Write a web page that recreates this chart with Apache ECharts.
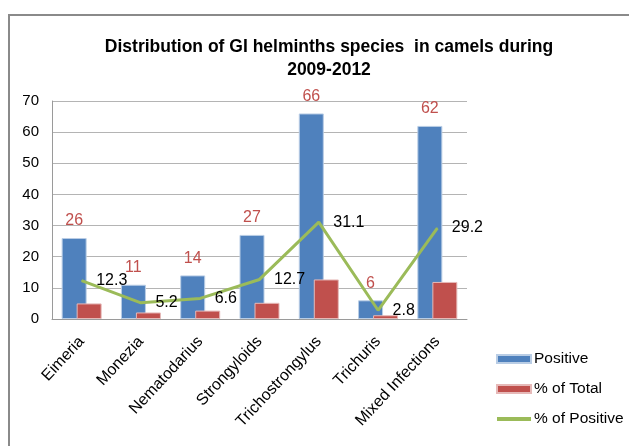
<!DOCTYPE html>
<html>
<head>
<meta charset="utf-8">
<script src="https://cdn.jsdelivr.net/npm/echarts@6/dist/echarts.min.js"></script>
<style>
  html, body { margin: 0; padding: 0; background: #fff; }
  #chart { width: 629px; height: 446px; }
</style>
</head>
<body>
<div id="chart"></div>
<script>
// Species groups along the x axis
const categories = ['Eimeria', 'Monezia', 'Nematodarius', 'Strongyloids', 'Trichostrongylus', 'Trichuris', 'Mixed Infections'];
// Number of positive camels per group
const positive = [26, 11, 14, 27, 66, 6, 62];
// Share of all examined camels (%)
const pctOfTotal = [5.0, 2.1, 2.7, 5.2, 12.7, 1.2, 11.9];
// Share of all positive cases (%)
const pctOfPositive = [12.3, 5.2, 6.6, 12.7, 31.1, 2.8, 29.2];
// Value axis ticks
const yTicks = [0, 10, 20, 30, 40, 50, 60, 70];

const FONT = 'Liberation Sans, Arial, sans-serif';

const chart = echarts.init(document.getElementById('chart'), null, { renderer: 'canvas' });

chart.setOption({
  animation: false,
  backgroundColor: '#fff',
  graphic: [{
    type: 'rect',
    shape: { x: 9, y: 15, width: 700, height: 500 },
    style: { fill: 'none', stroke: '#8a8a8a', lineWidth: 2 },
    silent: true
  }],
  title: {
    text: 'Distribution of GI helminths species  in camels during\n2009-2012',
    left: 324,
    top: 31,
    textAlign: 'center',
    textStyle: {
      fontFamily: FONT,
      fontWeight: 'bold',
      fontSize: 17.5,
      lineHeight: 23,
      color: '#000'
    }
  },
  legend: {
    orient: 'vertical',
    left: 491,
    top: 346,
    itemWidth: 34,
    itemHeight: 8,
    itemGap: 14,
    textStyle: { fontFamily: FONT, fontSize: 15.5, color: '#000', padding: [0, 0, 0, -2] },
    data: [
      { name: 'Positive', icon: 'rect' },
      { name: '% of Total', icon: 'rect' },
      { name: '% of Positive', icon: 'path://M0,0H34V4H0Z' }
    ]
  },
  grid: { left: 52, right: 162, top: 101, bottom: 127 },
  xAxis: {
    type: 'category',
    data: categories,
    axisLine: { lineStyle: { color: '#9a9a9a', width: 1 } },
    axisTick: { show: false },
    axisLabel: {
      rotate: 47,
      margin: 20,
      interval: 0,
      fontFamily: FONT,
      fontSize: 16,
      color: '#000'
    }
  },
  yAxis: {
    type: 'value',
    min: yTicks[0],
    max: yTicks[yTicks.length - 1],
    interval: 10,
    axisLine: { show: true, lineStyle: { color: '#9a9a9a', width: 1 } },
    axisTick: { show: false },
    splitLine: { lineStyle: { color: '#b4b4b4', width: 1 } },
    axisLabel: { margin: 13, fontFamily: FONT, fontSize: 15, color: '#000' }
  },
  series: [
    {
      name: 'Positive',
      type: 'bar',
      data: positive,
      barWidth: 25,
      barGap: '-40%',
      itemStyle: { color: '#4f81bd', borderColor: '#b9cde5', borderWidth: 1 },
      label: {
        show: true,
        position: 'top',
        distance: 9,
        fontFamily: FONT,
        fontSize: 16,
        color: '#c0504d'
      }
    },
    {
      name: '% of Total',
      type: 'bar',
      data: pctOfTotal,
      barWidth: 25,
      itemStyle: { color: '#c0504d', borderColor: '#e6b9b8', borderWidth: 1 }
    },
    {
      name: '% of Positive',
      type: 'line',
      data: pctOfPositive,
      symbol: 'circle',
      symbolSize: 1,
      showSymbol: true,
      lineStyle: { color: '#9bbb59', width: 3 },
      itemStyle: { color: '#9bbb59' },
      label: {
        show: true,
        position: 'right',
        distance: 14,
        fontFamily: FONT,
        fontSize: 16,
        color: '#000'
      },
      z: 3
    }
  ]
});
</script>
</body>
</html>
